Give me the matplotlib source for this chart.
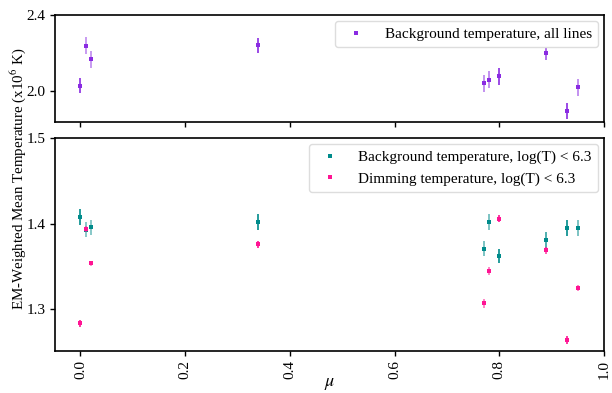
import numpy as np
import matplotlib
matplotlib.use("Agg")
import matplotlib.pyplot as plt

plt.rcParams['font.family'] = ['Liberation Serif', 'DejaVu Serif']
plt.rcParams['mathtext.fontset'] = 'stix'
plt.rcParams['font.size'] = 10

# mu positions of each region
mu = [0.0, 0.01, 0.02, 0.34, 0.77, 0.78, 0.80, 0.89, 0.93, 0.95]

# background temperature, all lines (x10^6 K)
bg_all = [2.027, 2.239, 2.167, 2.241, 2.039, 2.057, 2.076, 2.202, 1.892, 2.018]
bg_all_err = [0.04, 0.045, 0.045, 0.04, 0.045, 0.045, 0.045, 0.04, 0.04, 0.045]

# background / dimming temperature, log(T) < 6.3
bg_low = [1.408, 1.393, 1.396, 1.402, 1.371, 1.402, 1.362, 1.381, 1.395, 1.395]
bg_low_err = [0.009, 0.009, 0.009, 0.009, 0.009, 0.009, 0.008, 0.009, 0.009, 0.009]
dim_low = [1.2835, 1.394, 1.354, 1.376, 1.307, 1.345, 1.406, 1.369, 1.264, 1.325]
dim_low_err = [0.004, 0.004, 0.003, 0.004, 0.005, 0.005, 0.004, 0.004, 0.005, 0.003]

# some error bars in the original are drawn lighter
bar_alpha = [1.0, 0.55, 0.55, 1.0, 0.6, 0.6, 1.0, 0.8, 1.0, 0.6]

c_all = '#8a2be2'
c_bg = '#008b8b'
c_dim = '#ff1493'

fig = plt.figure(figsize=(6.12, 3.93), dpi=100)
ax1 = fig.add_axes([0.0904, 0.6888, 0.8966, 0.2723])
ax2 = fig.add_axes([0.0904, 0.1076, 0.8966, 0.5405])


def draw(ax, y, yerr, color, label):
    for i in range(len(mu)):
        ax.errorbar(mu[i], y[i], yerr=yerr[i], fmt='none', ecolor=color,
                    elinewidth=1.2, alpha=bar_alpha[i])
    ax.plot(mu, y, 's', ms=2.6, mew=0, color=color, ls='none', label=label)


draw(ax1, bg_all, bg_all_err, c_all, 'Background temperature, all lines')
draw(ax2, bg_low, bg_low_err, c_bg, 'Background temperature, log(T) < 6.3')
draw(ax2, dim_low, dim_low_err, c_dim, 'Dimming temperature, log(T) < 6.3')

for ax in (ax1, ax2):
    ax.set_xlim(-0.048, 1.0)
    ax.tick_params(direction='out', length=3.5, width=1, labelsize=11)
    for s in ax.spines.values():
        s.set_linewidth(1.2)
    ax.legend(loc='upper right', fontsize=11, handletextpad=0.85,
              borderaxespad=0.4, framealpha=1, edgecolor='#dddddd')

ax1.set_ylim(1.832, 2.4)
ax1.set_yticks([2.0, 2.4])
ax1.set_xticks(np.arange(0, 1.01, 0.2))
ax1.tick_params(labelbottom=False)

ax2.set_ylim(1.2516, 1.5)
ax2.set_yticks([1.3, 1.4, 1.5])
ax2.set_xticks(np.arange(0, 1.01, 0.2))
ax2.set_xticklabels(['0.0', '0.2', '0.4', '0.6', '0.8', '1.0'], rotation=90)
ax2.set_xlabel(r'$\mu$', fontsize=13, labelpad=-3)

fig.text(0.03, 0.546, r'EM-Weighted Mean Temperature (x10$^6$ K)', rotation=90,
         ha='center', va='center', fontsize=10.8)

fig.savefig('out.png', dpi=100)
